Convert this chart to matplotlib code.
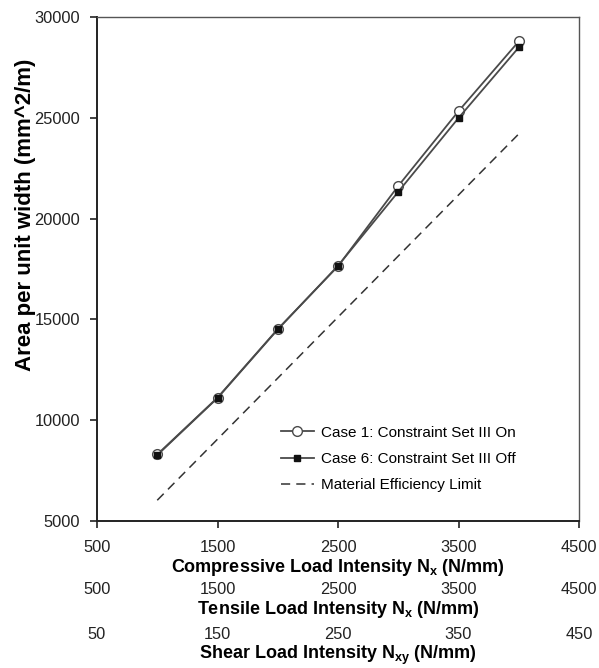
import matplotlib
matplotlib.use("Agg")
import matplotlib.pyplot as plt

plt.rcParams['font.family'] = ['Liberation Sans', 'DejaVu Sans']
plt.rcParams['mathtext.fontset'] = 'custom'
plt.rcParams['mathtext.rm'] = 'Liberation Sans'
plt.rcParams['mathtext.bf'] = 'Liberation Sans:bold'

# load intensity (N/mm) and area per unit width (mm^2/m)
load = [1000, 1500, 2000, 2500, 3000, 3500, 4000]
case1_on = [8300, 11120, 14520, 17640, 21620, 25330, 28790]
case6_off = [8270, 11100, 14500, 17660, 21330, 24990, 28490]
limit_load = [1000, 4000]
limit_area = [6030, 24200]

x_ticks = [500, 1500, 2500, 3500, 4500]
shear_ticks = [50, 150, 250, 350, 450]
y_ticks = [5000, 10000, 15000, 20000, 25000, 30000]

W, H = 599, 668
fig = plt.figure(figsize=(W / 100, H / 100), dpi=100)
ax = fig.add_axes([97 / W, 1 - 521 / H, (579 - 97) / W, (521 - 17) / H])

line_col = '#4a4a4a'
ax.plot(load, case1_on, color=line_col, lw=1.3, marker='o', ms=7,
        mfc='white', mec=line_col, mew=1.0, label='Case 1: Constraint Set III On')
ax.plot(load, case6_off, color=line_col, lw=1.3, marker='s', ms=5,
        mfc='#111111', mec='#111111', label='Case 6: Constraint Set III Off')
ax.plot(limit_load, limit_area, color='#333333', lw=1.1, ls=(0, (6, 4)),
        label='Material Efficiency Limit')

ax.set_xlim(500, 4500)
ax.set_ylim(5000, 30000)
ax.set_xticks(x_ticks)
ax.set_yticks(y_ticks)

for s in ax.spines.values():
    s.set_color('#555555')
    s.set_linewidth(1.0)
ax.spines['left'].set_color('#222222')
ax.spines['bottom'].set_color('#222222')
ax.spines['left'].set_linewidth(1.4)
ax.spines['bottom'].set_linewidth(1.4)

tick_fs = 11.8
label_fs = 13
ax.tick_params(axis='x', direction='out', length=5, width=1.2, pad=8.5,
               labelsize=tick_fs, colors='#222222')
ax.tick_params(axis='y', direction='out', length=5, width=1.2, pad=7,
               labelsize=tick_fs, colors='#222222')

ax.set_xlabel(r'Compressive Load Intensity N$_\mathbf{x}$ (N/mm)',
              fontsize=label_fs, fontweight='bold', labelpad=1.5)
ax.set_ylabel('Area per unit width (mm^2/m)', fontsize=16, fontweight='bold')
ax.yaxis.set_label_coords(-0.126, 0.607)

axes_h = 521 - 17
row_gap = 44.5

sec_t = ax.secondary_xaxis(-row_gap / axes_h)
sec_t.set_xticks(x_ticks)
sec_t.spines['bottom'].set_visible(False)
sec_t.tick_params(length=0, pad=8.5 + 5 * 0.72, labelsize=tick_fs, colors='#222222')
sec_t.set_xlabel(r'Tensile Load Intensity N$_\mathbf{x}$ (N/mm)',
                 fontsize=label_fs, fontweight='bold', labelpad=1.5)

sec_s = ax.secondary_xaxis(-2 * row_gap / axes_h,
                           functions=(lambda x: x / 10, lambda x: x * 10))
sec_s.set_xticks(shear_ticks)
sec_s.spines['bottom'].set_visible(False)
sec_s.tick_params(length=0, pad=8.5 + 5 * 0.72, labelsize=tick_fs, colors='#222222')
sec_s.set_xlabel(r'Shear Load Intensity N$_\mathbf{xy}$ (N/mm)',
                 fontsize=label_fs, fontweight='bold', labelpad=1.5)

ax.legend(loc='upper left', bbox_to_anchor=(0.37, 0.201), frameon=False,
          fontsize=11, handlelength=2.1, handletextpad=0.5, labelspacing=0.8,
          borderaxespad=0)

fig.savefig('out.png', dpi=100)
